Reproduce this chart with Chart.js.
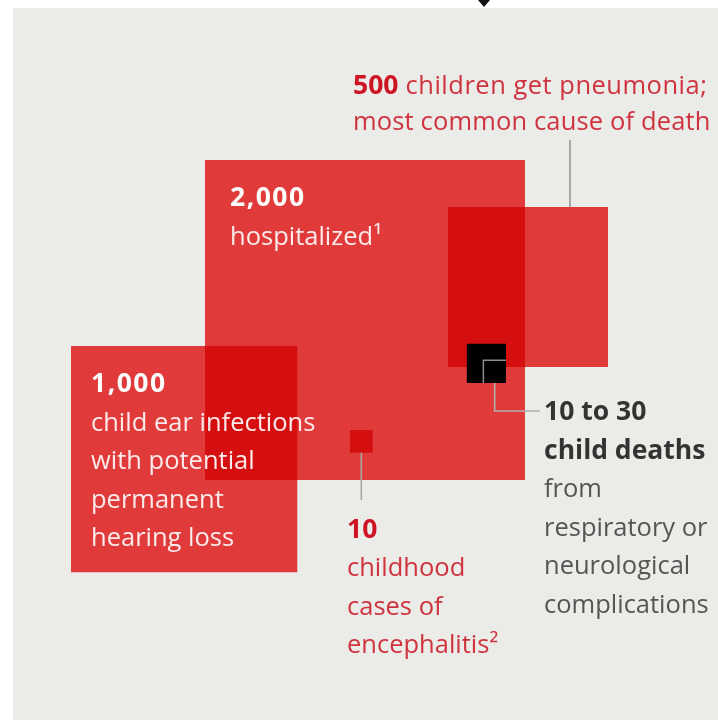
<!DOCTYPE html>
<html><head><meta charset="utf-8">
<script src="https://cdn.jsdelivr.net/npm/chart.js@4/dist/chart.umd.min.js"></script>
<style>html,body{margin:0;padding:0;background:#fff;overflow:hidden}</style>
</head><body>
<canvas id="c" width="718" height="720"></canvas>
<script>
// ---- data ----
const categories = ['hospitalized', 'pneumonia', 'ear infections', 'encephalitis', 'deaths (upper estimate)', 'deaths (lower estimate)'];
const cases = [2000, 500, 1000, 10, 30, 10];
const numberLabels = ['2,000', '500', '1,000', '10', '10 to 30'];

// ---- layout (positions, separate from data) ----
const unitPerRootCase = 320 / Math.sqrt(2000);   // side length = k * sqrt(cases)
const anchorX = [205, 448, 71, 350, 506, 506];
const anchorY = [160, 207, 346, 430, 383, 383];
const anchorCorner = ['tl', 'tl', 'tl', 'tl', 'br', 'br'];

const BG = 'rgb(235,235,232)';
const RED = 'rgb(243,63,64)';

function side(i) { return unitPerRootCase * Math.sqrt(cases[i]); }
function box(i) {
  const s = side(i);
  let x0 = anchorX[i], y0 = anchorY[i];
  if (anchorCorner[i] === 'br') { x0 -= s; y0 -= s; }
  return {x0, y0, x1: x0 + s, y1: y0 + s};
}
function squarePts(i) {
  const b = box(i);
  return [{x: b.x0, y: b.y0}, {x: b.x1, y: b.y0}, {x: b.x1, y: b.y1}, {x: b.x0, y: b.y1}, {x: b.x0, y: b.y0}];
}

const datasets = [];
const fills = [RED, RED, RED, RED, '#000'];
for (let i = 0; i < 5; i++) {
  datasets.push({label: categories[i], data: squarePts(i), showLine: true, fill: 'shape',
    backgroundColor: fills[i], borderWidth: 0, borderColor: 'rgba(0,0,0,0)', pointRadius: 0, order: 3});
}
// inner (lower estimate) square: only top & left edge outlined
{
  const b = box(5);
  datasets.push({label: categories[5], data: [{x: b.x0, y: b.y1}, {x: b.x0, y: b.y0}, {x: b.x1, y: b.y0}],
    showLine: true, fill: false, borderColor: '#8c8c8c', borderWidth: 1.5, pointRadius: 0, order: 2});
}
// leader lines
const bP = box(1), bE = box(3), bD = box(5);
const leaders = [
  [{x: 570, y: 140}, {x: 570, y: bP.y0}],
  [{x: (bE.x0 + bE.x1) / 2, y: bE.y1}, {x: (bE.x0 + bE.x1) / 2, y: 500}],
  [{x: (bD.x0 + bD.x1) / 2, y: bD.y1}, {x: (bD.x0 + bD.x1) / 2, y: 411}, {x: 540, y: 411}]
];
const leaderColors = ['#9a9a9a', '#a8a8a8', '#b0b0b0'];
leaders.forEach((pts, k) => datasets.push({label: 'leader' + k, data: pts, showLine: true, fill: false,
  borderColor: leaderColors[k], borderWidth: 1.6, pointRadius: 0, order: 1}));

const FONT = '"Open Sans", "Liberation Sans", sans-serif';
const RB = 25.5, BB = 26.5;
const textBlocks = [
  {x: 353, y: 94, lh: 36, lines: [
    [{t: numberLabels[1], b: true, c: '#cc1424'}, {t: ' children get pneumonia;', c: '#cf3340', ls: 0.5}],
    [{t: 'most common cause of death', c: '#cf3340', ls: 0.15}]]},
  {x: 230, y: 206, lh: 39, lines: [
    [{t: numberLabels[0], b: true, c: '#fff', ls: 1.5}],
    [{t: 'hospitalized¹', c: '#fbeaea'}]]},
  {x: 91, y: 392, lh: 38.5, lines: [
    [{t: numberLabels[2], b: true, c: '#fff', ls: 1.5}],
    [{t: 'child ear infections', c: '#fbeaea'}],
    [{t: 'with potential', c: '#fbeaea'}],
    [{t: 'permanent', c: '#fbeaea'}],
    [{t: 'hearing loss', c: '#fbeaea'}]]},
  {x: 347, y: 538, lh: 38.3, lines: [
    [{t: numberLabels[3], b: true, c: '#cc1424'}],
    [{t: 'childhood', c: '#cf3340'}],
    [{t: 'cases of', c: '#cf3340'}],
    [{t: 'encephalitis²', c: '#cf3340'}]]},
  {x: 544, y: 420, lh: 38.5, lines: [
    [{t: numberLabels[4], b: true, c: '#333'}],
    [{t: 'child deaths', b: true, c: '#333'}],
    [{t: 'from', c: '#555'}],
    [{t: 'respiratory or', c: '#555'}],
    [{t: 'neurological', c: '#555'}],
    [{t: 'complications', c: '#555'}]]}
];

const decor = {
  id: 'decor',
  beforeDraw(chart) {
    const ctx = chart.ctx;
    ctx.save();
    ctx.fillStyle = '#fff';
    ctx.fillRect(0, 0, chart.width, chart.height);
    ctx.fillStyle = BG;
    ctx.fillRect(13, 8, chart.width - 13, chart.height - 8);
    // arrow tip at top
    ctx.fillStyle = '#111';
    ctx.beginPath(); ctx.moveTo(478, 0); ctx.lineTo(490, 0); ctx.lineTo(484, 7); ctx.closePath(); ctx.fill();
    ctx.restore();
  },
  beforeDatasetsDraw(chart) { chart.ctx.globalCompositeOperation = 'multiply'; },
  beforeDatasetDraw(chart, args) {
    const ds = chart.data.datasets[args.index];
    if (ds.order < 3) chart.ctx.globalCompositeOperation = 'source-over';
  },
  afterDatasetsDraw(chart) { chart.ctx.globalCompositeOperation = 'source-over'; },
  afterDraw(chart) {
    const ctx = chart.ctx, sx = chart.scales.x, sy = chart.scales.y;
    ctx.save();
    ctx.textBaseline = 'alphabetic';
    ctx.textAlign = 'left';
    for (const blk of textBlocks) {
      blk.lines.forEach((runs, li) => {
        let x = sx.getPixelForValue(blk.x);
        const y = sy.getPixelForValue(blk.y + li * blk.lh);
        for (const r of runs) {
          ctx.font = (r.b ? '700 ' + BB : '400 ' + RB) + 'px ' + FONT;
          ctx.letterSpacing = (r.ls || 0) + 'px';
          ctx.fillStyle = r.c;
          ctx.fillText(r.t, x, y);
          x += ctx.measureText(r.t).width;
        }
      });
    }
    ctx.restore();
  }
};

new Chart(document.getElementById('c'), {
  type: 'scatter',
  data: {datasets},
  options: {
    responsive: false, animation: false, events: [],
    layout: {padding: 0},
    scales: {
      x: {type: 'linear', min: 0, max: 718, display: false},
      y: {type: 'linear', min: 0, max: 720, reverse: true, display: false}
    },
    plugins: {legend: {display: false}, tooltip: {enabled: false}}
  },
  plugins: [decor]
});
</script>
</body></html>
